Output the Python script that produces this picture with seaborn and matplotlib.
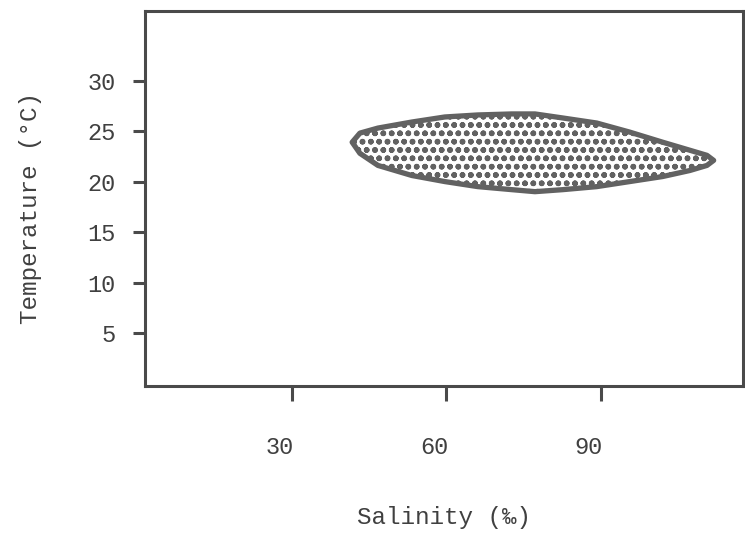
import numpy as np
import pandas as pd
import matplotlib
matplotlib.use("Agg")
import matplotlib.pyplot as plt
import matplotlib.transforms as mtransforms
import seaborn as sns

# 数据：椭圆状区域的边界（盐度, 温度）
upper_salinity = [41.7, 43.2, 46.7, 53.3, 59.7, 66.1, 72.7, 77.2, 82.6, 89.2, 95.6, 102.0, 107.3, 110.6, 111.9]
upper_temp = [23.9, 24.8, 25.3, 25.9, 26.4, 26.6, 26.7, 26.7, 26.3, 25.8, 24.9, 23.9, 23.1, 22.6, 22.1]
lower_salinity = [110.6, 107.3, 102.0, 95.6, 89.2, 82.6, 77.2, 72.7, 66.1, 59.7, 53.3, 46.7, 43.2]
lower_temp = [21.6, 21.1, 20.5, 20.0, 19.5, 19.2, 19.0, 19.2, 19.5, 20.0, 20.6, 21.6, 22.8]

x_ticks = [30, 60, 90]
y_ticks = [5, 10, 15, 20, 25, 30]

outline = pd.DataFrame({
    "salinity": upper_salinity + lower_salinity,
    "temp": upper_temp + lower_temp,
})

sns.set_style("white")
plt.rcParams['font.family'] = ['Liberation Mono', 'DejaVu Sans Mono']
plt.rcParams['hatch.linewidth'] = 1.7
plt.rcParams['hatch.color'] = '#3c3c3c'

ink = '#404040'
fig = plt.figure(figsize=(7.45, 5.35), dpi=100)
ax = fig.add_axes([0.1946, 0.2785, 0.8027, 0.701])

# 阴影区域（点状填充）
ax.fill(outline["salinity"], outline["temp"], facecolor='white',
        edgecolor='#626262', hatch='oo', linewidth=3.8,
        joinstyle='round', zorder=2)

ax.set_xlim(1.46, 117.6)
ax.set_ylim(-0.25, 36.9)
ax.set_xticks(x_ticks)
ax.set_yticks(y_ticks)

for s in ax.spines.values():
    s.set_color('#4a4a4a')
    s.set_linewidth(2.2)

ax.tick_params(axis='x', direction='out', length=11, width=2.2, color='#4a4a4a',
               pad=25, labelsize=17, labelcolor=ink, bottom=True)
ax.tick_params(axis='y', direction='out', length=9, width=2.2, color='#4a4a4a',
               pad=12, labelsize=17, labelcolor=ink, left=True)

# 原图的x刻度标签略偏左
shift = mtransforms.ScaledTranslation(-0.12, 0, fig.dpi_scale_trans)
for lab in ax.get_xticklabels():
    lab.set_transform(lab.get_transform() + shift)

ax.set_xlabel('Salinity (‰)', fontsize=17.5, color=ink, labelpad=34)
ax.set_ylabel('Temperature (°C)', fontsize=17.5, color=ink)
ax.yaxis.set_label_coords(-0.172, 0.475)

fig.savefig('out.png', dpi=100)
